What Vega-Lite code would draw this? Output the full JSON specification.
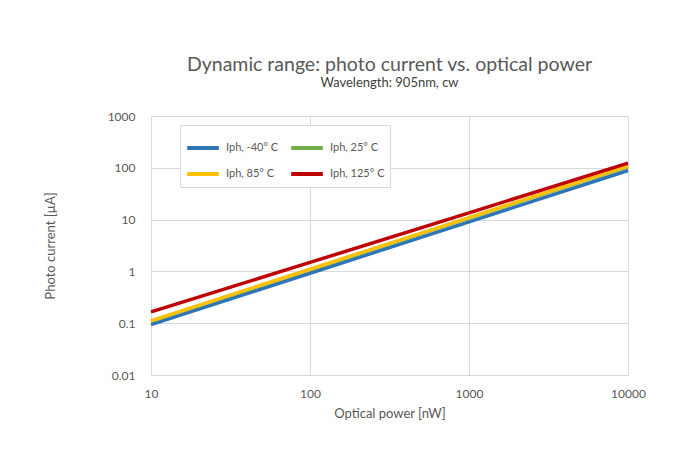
{
  "$schema": "https://vega.github.io/schema/vega-lite/v6.json",
  "width": 477,
  "height": 259,
  "autosize": "none",
  "padding": {"left": 151, "top": 116, "right": 68, "bottom": 94},
  "background": "white",
  "title": {
    "text": "Dynamic range: photo current  vs. optical power",
    "subtitle": "Wavelength: 905nm, cw",
    "anchor": "middle",
    "font": "Lato",
    "fontSize": 19.5,
    "fontWeight": "normal",
    "color": "#595959",
    "subtitleFont": "Lato",
    "subtitleFontSize": 13,
    "subtitleColor": "#404040",
    "subtitlePadding": 2,
    "offset": 19
  },
  "data": {
    "values": [
      {"series": "Iph, -40° C", "power": 10, "current": 0.094},
      {"series": "Iph, -40° C", "power": 100, "current": 0.92},
      {"series": "Iph, -40° C", "power": 1000, "current": 9.05},
      {"series": "Iph, -40° C", "power": 10000, "current": 88.7},
      {"series": "Iph, 25° C", "power": 10, "current": 0.11},
      {"series": "Iph, 25° C", "power": 100, "current": 1.08},
      {"series": "Iph, 25° C", "power": 1000, "current": 10.7},
      {"series": "Iph, 25° C", "power": 10000, "current": 106},
      {"series": "Iph, 85° C", "power": 10, "current": 0.111},
      {"series": "Iph, 85° C", "power": 100, "current": 1.10},
      {"series": "Iph, 85° C", "power": 1000, "current": 10.9},
      {"series": "Iph, 85° C", "power": 10000, "current": 108},
      {"series": "Iph, 125° C", "power": 10, "current": 0.165},
      {"series": "Iph, 125° C", "power": 100, "current": 1.49},
      {"series": "Iph, 125° C", "power": 1000, "current": 13.5},
      {"series": "Iph, 125° C", "power": 10000, "current": 123}
    ]
  },
  "mark": {"type": "line", "strokeWidth": 3.5, "strokeCap": "butt"},
  "encoding": {
    "x": {
      "field": "power",
      "type": "quantitative",
      "scale": {"type": "log", "domain": [10, 10000], "nice": false},
      "axis": {
        "title": "Optical power [nW]",
        "values": [10, 100, 1000, 10000],
        "format": "d",
        "domain": false,
        "ticks": false,
        "labelPadding": 13,
        "titlePadding": 8,
        "gridColor": "#d9d9d9",
        "labelFlush": false
      }
    },
    "y": {
      "field": "current",
      "type": "quantitative",
      "scale": {"type": "log", "domain": [0.01, 1000], "nice": false},
      "axis": {
        "title": "Photo current [µA]",
        "values": [0.01, 0.1, 1, 10, 100, 1000],
        "format": "~g",
        "domain": false,
        "ticks": false,
        "labelPadding": 16,
        "titlePadding": 50,
        "gridColor": "#d9d9d9"
      }
    },
    "color": {
      "field": "series",
      "type": "nominal",
      "sort": ["Iph, -40° C", "Iph, 25° C", "Iph, 85° C", "Iph, 125° C"],
      "scale": {
        "domain": ["Iph, -40° C", "Iph, 25° C", "Iph, 85° C", "Iph, 125° C"],
        "range": ["#2e75b6", "#70ad47", "#ffc000", "#c00000"]
      },
      "legend": {
        "title": null,
        "orient": "none",
        "legendX": 29,
        "legendY": 9,
        "direction": "horizontal",
        "columns": 2,
        "symbolType": "stroke",
        "symbolSize": 1000,
        "symbolStrokeWidth": 4,
        "labelFont": "Lato",
        "labelFontSize": 11,
        "labelColor": "#595959",
        "labelOffset": 5,
        "columnPadding": 4,
        "rowPadding": -3,
        "padding": 5,
        "strokeColor": "#d9d9d9",
        "fillColor": "white"
      }
    },
    "order": {"field": "series"}
  },
  "config": {
    "view": {"stroke": null},
    "axis": {
      "labelFont": "Lato",
      "labelFontSize": 12,
      "labelColor": "#595959",
      "titleFont": "Lato",
      "titleFontSize": 13,
      "titleFontWeight": "normal",
      "titleColor": "#595959"
    }
  }
}
